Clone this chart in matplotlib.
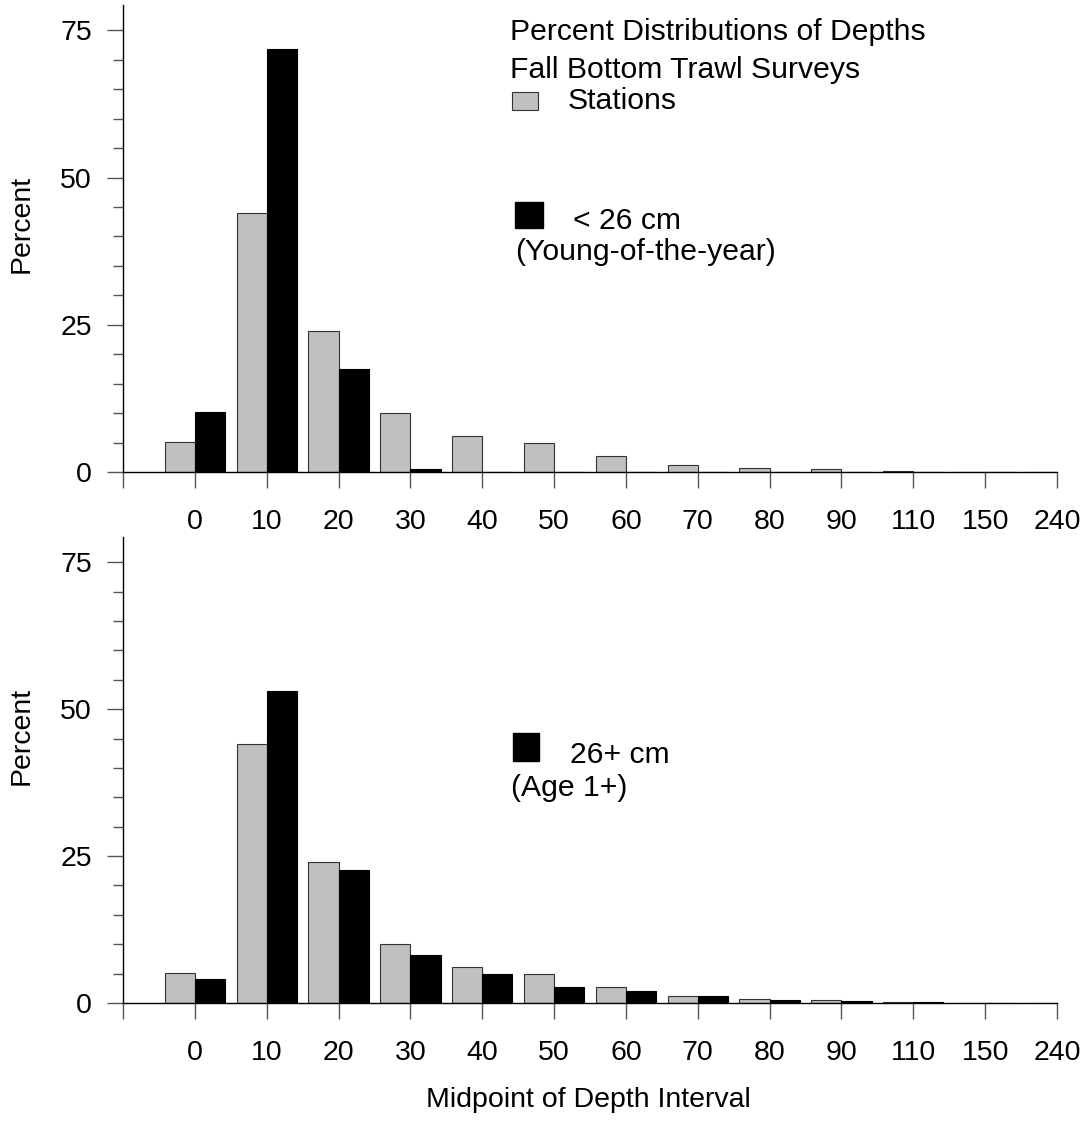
import matplotlib
matplotlib.use("Agg")
import matplotlib.pyplot as plt
from matplotlib.ticker import MultipleLocator

plt.rcParams['font.family'] = ['Liberation Sans', 'DejaVu Sans']

# depth interval midpoints (tick labels)
depths = ['0', '10', '20', '30', '40', '50', '60', '70', '80', '90', '110', '150', '240']

# percent of stations per depth interval
stations = [5.1, 44.0, 24.0, 10.0, 6.1, 4.9, 2.7, 1.25, 0.75, 0.5, 0.12, 0, 0]
# percent of fish < 26 cm (young-of-the-year)
young = [10.2, 71.8, 17.5, 0.45, 0, 0, 0, 0, 0, 0, 0, 0, 0]
# percent of fish 26+ cm (age 1+)
age1 = [4.1, 53.1, 22.6, 8.2, 4.85, 2.7, 2.0, 1.25, 0.5, 0.35, 0.1, 0, 0]

W, H = 1090, 1127
FS = 20.5
LFS = 21.7
GRAY = '#c0c0c0'

fig = plt.figure(figsize=(W / 100, H / 100), dpi=100)

def px(x, y):
    return x / W, 1 - y / H

def panel(rect, fish):
    ax = fig.add_axes(rect)
    pos = list(range(1, len(depths) + 1))
    bw = 0.42
    ax.bar([p - bw / 2 for p in pos], stations, width=bw, color=GRAY,
           edgecolor='#333333', linewidth=0.8)
    ax.bar([p + bw / 2 for p in pos], fish, width=bw, color='black',
           edgecolor='black', linewidth=0.8)
    ax.set_xlim(0, len(depths))
    ax.set_ylim(0, 79.3)
    ax.set_xticks(range(0, len(depths) + 1))
    ax.set_xticklabels([''] + depths, fontsize=FS)
    ax.set_yticks([0, 25, 50, 75])
    ax.yaxis.set_minor_locator(MultipleLocator(5))
    ax.tick_params(axis='y', labelsize=FS)
    for s in ['top', 'right']:
        ax.spines[s].set_visible(False)
    for s in ['left', 'bottom']:
        ax.spines[s].set_linewidth(1.0)
    ax.tick_params(which='major', direction='out', length=11.5, width=1.0,
                   color='#555555')
    ax.tick_params(which='minor', direction='out', length=7, width=1.0,
                   color='#555555')
    ax.tick_params(axis='x', pad=15)
    ax.tick_params(axis='y', pad=11)
    return ax

top = panel([123 / W, 1 - 472 / H, 934 / W, 467 / H], young)
bot = panel([123 / W, 1 - 1003 / H, 934 / W, 466 / H], age1)

fig.text(*px(22, 224), 'Percent', rotation=90, ha='center', va='center', fontsize=FS)
fig.text(*px(22, 736), 'Percent', rotation=90, ha='center', va='center', fontsize=FS)
fig.text(*px(588, 1100), 'Midpoint of Depth Interval', ha='center', va='center', fontsize=FS)

# legend texts, top panel
fig.text(*px(510, 32), 'Percent Distributions of Depths', va='center', fontsize=LFS)
fig.text(*px(510, 70), 'Fall Bottom Trawl Surveys', va='center', fontsize=LFS)
fig.patches.append(plt.Rectangle(px(512, 110), 26 / W, 18 / H, transform=fig.transFigure,
                                 facecolor=GRAY, edgecolor='#333333', linewidth=0.8))
fig.text(*px(568, 101), 'Stations', va='center', fontsize=LFS)
fig.patches.append(plt.Rectangle(px(515, 228), 28 / W, 26 / H, transform=fig.transFigure,
                                 facecolor='black', edgecolor='black'))
fig.text(*px(573, 221), '< 26 cm', va='center', fontsize=LFS)
fig.text(*px(515, 252), '(Young-of-the-year)', va='center', fontsize=LFS)

# legend texts, bottom panel
fig.patches.append(plt.Rectangle(px(513, 761), 26 / W, 28 / H, transform=fig.transFigure,
                                 facecolor='black', edgecolor='black'))
fig.text(*px(570, 755), '26+ cm', va='center', fontsize=LFS)
fig.text(*px(511, 788), '(Age 1+)', va='center', fontsize=LFS)

fig.savefig('out.png', dpi=100)
